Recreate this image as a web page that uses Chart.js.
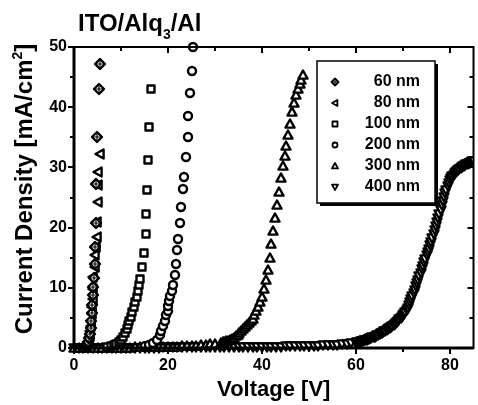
<!DOCTYPE html>
<html lang="en">
<head>
  <meta charset="UTF-8" />
  <title>ITO/Alq3/Al J-V</title>
  <script src="https://cdn.jsdelivr.net/npm/chart.js"></script>
  <style>
    body { margin: 0; background: #fff; }
    #wrap { position: relative; width: 478px; height: 405px; }
  </style>
</head>
<body>
  <div id="wrap"><canvas id="grafico"></canvas></div>

  <script>
    // thickness series: voltage [V] and current density [mA/cm2]
    const labels = ['60 nm', '80 nm', '100 nm', '200 nm', '300 nm', '400 nm'];

    const v60 = [2.2, 2.5, 2.8, 3.0, 3.2, 3.4, 3.6, 3.7, 3.8, 3.9, 4.0, 4.1, 4.2, 4.4, 4.55, 4.7, 4.75, 4.85, 5.4, 5.5];
    const j60 = [0.1, 0.3, 0.6, 1.0, 1.6, 2.4, 3.4, 4.5, 5.8, 7.2, 8.8, 10.2, 11.6, 14.0, 16.8, 20.8, 27.3, 35.0, 43.1, 47.1];

    const v80 = [2.4, 2.7, 3.0, 3.2, 3.4, 3.5, 3.6, 3.7, 3.8, 3.9, 4.0, 4.05, 4.1, 4.4, 4.45, 4.6, 4.8, 4.8, 5.1, 5.1, 5.15, 5.5];
    const j80 = [0.1, 0.3, 0.7, 1.2, 2.0, 2.8, 3.6, 4.5, 5.6, 6.8, 8.2, 9.8, 11.8, 13.5, 15.4, 16.8, 18.4, 20.9, 24.3, 27.0, 29.2, 32.3];

    const v100 = [7.0, 7.8, 8.5, 9.0, 9.5, 10.0, 10.4, 10.8, 11.2, 11.5, 11.8, 12.1, 12.4, 12.7, 13.0, 13.3, 13.6, 13.9, 14.1, 14.5, 14.8, 15.3, 15.4, 15.6, 15.8, 16.0, 16.4];
    const j100 = [0.2, 0.3, 0.5, 0.7, 1.0, 1.4, 1.9, 2.5, 3.1, 3.8, 4.5, 5.2, 6.0, 6.8, 7.6, 8.5, 9.5, 10.4, 11.4, 13.4, 15.8, 18.9, 22.3, 26.2, 31.3, 36.7, 43.1];

    const v200 = [15.0, 16.0, 16.9, 17.6, 18.2, 18.6, 19.0, 19.3, 19.6, 19.9, 20.1, 20.3, 20.5, 20.8, 21.0, 21.4, 21.7, 21.9, 22.2, 22.5, 22.8, 23.2, 23.5, 23.9, 24.2, 24.3, 24.6, 25.0, 25.3];
    const j200 = [0.3, 0.5, 0.9, 1.4, 2.1, 2.9, 3.7, 4.5, 5.4, 6.2, 7.0, 7.8, 8.7, 9.5, 10.4, 12.1, 14.0, 16.2, 18.1, 20.8, 23.4, 26.4, 28.4, 31.7, 35.0, 38.6, 42.3, 46.0, 50.0];

    const v300 = [0, 1, 2, 3, 4, 5, 6, 7, 8, 9, 10, 11, 12, 13, 14, 15, 16, 17, 18, 19, 20, 21, 22, 23, 24, 25, 26, 27, 28, 29, 30,
      31.2, 31.6, 32.0, 32.4, 32.8, 33.2, 33.6, 34.0, 34.4, 34.8, 35.2, 35.6, 36.0, 36.4, 36.8, 37.2, 37.6, 38.0, 38.4, 38.8,
      39.2, 39.6, 40.0, 40.4, 40.8, 41.2, 41.6, 42.0, 42.4, 42.8, 43.2, 43.6, 44.0, 44.4, 44.8, 45.2, 45.6, 46.0, 46.4, 46.8,
      47.2, 47.6, 48.0, 48.4, 48.8];
    const j300 = [0.05, 0.05, 0.05, 0.05, 0.05, 0.05, 0.05, 0.06, 0.06, 0.07, 0.07, 0.08, 0.08, 0.09, 0.1, 0.1, 0.12, 0.13, 0.15, 0.16, 0.18, 0.2, 0.22, 0.25, 0.3, 0.35, 0.4, 0.45, 0.5, 0.6, 0.7,
      0.88, 0.93, 1.0, 1.1, 1.22, 1.35, 1.5, 1.7, 1.92, 2.18, 2.5, 2.85, 3.2, 3.55, 3.9, 4.2, 4.5, 4.9, 5.5, 6.15,
      6.85, 7.65, 8.5, 9.8, 11.3, 13.0, 15.0, 17.2, 19.4, 21.6, 23.8, 25.9, 28.2, 30.2, 31.9, 33.6, 35.4, 37.2, 39.2, 40.7,
      42.0, 43.0, 43.8, 44.6, 45.3];

    const v400 = [0, 1, 2, 3, 4, 5, 6, 7, 8, 9, 10, 11, 12, 13, 14, 15, 16, 17, 18, 19, 20, 21, 22, 23, 24, 25, 26, 27, 28, 29,
      30, 31, 32, 33, 34, 35, 36, 37, 38, 39, 40, 41, 42, 43, 44, 45, 46, 47, 48, 49, 50, 51, 52, 53, 54, 55, 56, 57, 58, 59,
      60, 60.25, 60.5, 60.75, 61, 61.25, 61.5, 61.75, 62, 62.25, 62.5, 62.75, 63, 63.25, 63.5, 63.75,
      64, 64.25, 64.5, 64.75, 65, 65.25, 65.5, 65.75, 66, 66.25, 66.5, 66.75, 67, 67.25, 67.5, 67.75,
      68, 68.25, 68.5, 68.75, 69, 69.25, 69.5, 69.75, 70, 70.25, 70.5, 70.75, 71, 71.25, 71.5, 71.75,
      72, 72.25, 72.5, 72.75, 73, 73.25, 73.5, 73.75, 74, 74.25, 74.5, 74.75, 75, 75.25, 75.5, 75.75,
      76, 76.25, 76.5, 76.75, 77, 77.25, 77.5, 77.75, 78, 78.25, 78.5, 78.75, 79, 79.25, 79.5, 79.75,
      80, 80.25, 80.5, 80.75, 81, 81.25, 81.5, 81.75, 82, 82.25, 82.5, 82.75, 83, 83.25, 83.5, 83.75,
      84, 84.25, 84.5, 84.75, 85];
    const j400 = [0.05, 0.05, 0.05, 0.05, 0.05, 0.05, 0.05, 0.05, 0.05, 0.05, 0.06, 0.06, 0.06, 0.07, 0.07, 0.07, 0.08, 0.08, 0.08, 0.09,
      0.09, 0.1, 0.1, 0.1, 0.11, 0.11, 0.12, 0.12, 0.13, 0.13, 0.14, 0.14, 0.15, 0.15, 0.16, 0.16, 0.17, 0.18, 0.18, 0.19,
      0.2, 0.21, 0.22, 0.23, 0.24, 0.25, 0.27, 0.28, 0.3, 0.32, 0.34, 0.36, 0.39, 0.42, 0.46, 0.5, 0.56, 0.64, 0.72, 0.8,
      0.9, 0.95, 1.0, 1.05, 1.1, 1.16, 1.22, 1.29, 1.35, 1.41, 1.48, 1.54, 1.6, 1.67, 1.75, 1.82,
      1.9, 2.0, 2.1, 2.2, 2.3, 2.41, 2.52, 2.64, 2.75, 2.87, 3.0, 3.12, 3.25, 3.4, 3.55, 3.7,
      3.85, 4.02, 4.2, 4.37, 4.55, 4.76, 4.97, 5.18, 5.4, 5.72, 6.05, 6.37, 6.7, 7.17, 7.65, 8.12,
      8.6, 9.15, 9.7, 10.25, 10.8, 11.37, 11.95, 12.52, 13.1, 13.67, 14.25, 14.82, 15.4, 15.95, 16.5, 17.05,
      17.6, 18.25, 18.9, 19.55, 20.2, 20.9, 21.6, 22.3, 23.0, 23.7, 24.4, 25.1, 25.8, 26.32, 26.85, 27.37,
      27.9, 28.2, 28.5, 28.8, 29.1, 29.27, 29.45, 29.62, 29.8, 29.92, 30.05, 30.17, 30.3, 30.4, 30.5, 30.6,
      30.7, 30.8, 30.9, 31.0, 31.1];

    const xTicks = [0, 10, 20, 30, 40, 50, 60, 70, 80];
    const yTicks = [0, 5, 10, 15, 20, 25, 30, 35, 40, 45, 50];

    const FONT = '"Liberation Sans", Arial, sans-serif';

    // hollow black markers drawn on small canvases
    function makeMarker(kind, s, lw) {
      const size = 2 * Math.ceil((s + lw * 2 + 2) / 2);
      const c = document.createElement('canvas');
      c.width = c.height = size;
      const g = c.getContext('2d');
      const m = size / 2, r = s / 2;
      g.lineWidth = lw;
      g.strokeStyle = '#000';
      g.fillStyle = '#fff';
      g.lineJoin = 'round';
      g.beginPath();
      if (kind === 'diamond') {
        g.moveTo(m, m - r); g.lineTo(m + r, m); g.lineTo(m, m + r); g.lineTo(m - r, m);
      } else if (kind === 'triL') {
        g.moveTo(m - r, m); g.lineTo(m + r * 0.8, m - r); g.lineTo(m + r * 0.8, m + r);
      } else if (kind === 'square') {
        g.rect(m - r, m - r, s, s);
      } else if (kind === 'circle') {
        g.arc(m, m, r, 0, Math.PI * 2);
      } else if (kind === 'triU') {
        g.moveTo(m, m - r); g.lineTo(m + r, m + r * 0.8); g.lineTo(m - r, m + r * 0.8);
      } else if (kind === 'triD') {
        g.moveTo(m, m + r); g.lineTo(m + r, m - r * 0.8); g.lineTo(m - r, m - r * 0.8);
      }
      g.closePath();
      g.fill();
      g.stroke();
      if (kind === 'diamond') {
        g.lineWidth = Math.max(1, lw * 0.5);
        g.beginPath();
        g.moveTo(m - r, m); g.lineTo(m + r, m);
        g.moveTo(m, m - r * 0.6); g.lineTo(m, m + r * 0.6);
        g.stroke();
      }
      return c;
    }

    const series = [
      { v: v60, j: j60, kind: 'diamond', s: 10 },
      { v: v80, j: j80, kind: 'triL', s: 9 },
      { v: v100, j: j100, kind: 'square', s: 7 },
      { v: v200, j: j200, kind: 'circle', s: 8 },
      { v: v300, j: j300, kind: 'triU', s: 9 },
      { v: v400, j: j400, kind: 'triD', s: 9 }
    ];

    const legendMarks = series.map(s => makeMarker(s.kind, Math.round(s.s * 0.65), 1.8));

    const decor = {
      id: 'decor',
      beforeDatasetsDraw(chart) {
        chart.ctx.imageSmoothingEnabled = false;
      },
      afterDraw(chart) {
        const ctx = chart.ctx;
        const a = chart.chartArea;
        const xs = chart.scales.x, ys = chart.scales.y;
        ctx.save();
        ctx.imageSmoothingEnabled = false;
        ctx.strokeStyle = '#000';
        ctx.fillStyle = '#000';

        // frame
        ctx.lineWidth = 2;
        ctx.strokeRect(a.left, a.top, a.right - a.left, a.bottom - a.top);
        ctx.lineWidth = 3;
        ctx.beginPath();
        ctx.moveTo(a.left, a.top); ctx.lineTo(a.left, a.bottom); ctx.lineTo(a.right, a.bottom);
        ctx.stroke();

        // ticks: outward on bottom/left, inward on top/right
        ctx.lineWidth = 2;
        ctx.beginPath();
        xTicks.forEach(t => {
          const px = Math.round(xs.getPixelForValue(t));
          const len = t % 20 === 0 ? 6 : 4;
          ctx.moveTo(px, a.bottom); ctx.lineTo(px, a.bottom + len);
          ctx.moveTo(px, a.top); ctx.lineTo(px, a.top + len);
        });
        yTicks.forEach(t => {
          const py = Math.round(ys.getPixelForValue(t));
          const len = t % 10 === 0 ? 6 : 4;
          ctx.moveTo(a.left - len, py); ctx.lineTo(a.left, py);
          ctx.moveTo(a.right - len, py); ctx.lineTo(a.right, py);
        });
        ctx.stroke();

        // title
        ctx.textBaseline = 'alphabetic';
        ctx.textAlign = 'left';
        let x = 78;
        ctx.font = 'bold 24px ' + FONT;
        ctx.fillText('ITO/Alq', x, 31);
        x += ctx.measureText('ITO/Alq').width;
        ctx.font = 'bold 14px ' + FONT;
        ctx.fillText('3', x, 39);
        x += ctx.measureText('3').width;
        ctx.font = 'bold 24px ' + FONT;
        ctx.fillText('/Al', x, 31);

        // y axis title with superscript
        ctx.save();
        ctx.translate(32, 189);
        ctx.rotate(-Math.PI / 2);
        const p1 = 'Current Density [mA/cm', p2 = '2', p3 = ']';
        ctx.font = 'bold 24px ' + FONT;
        const w1 = ctx.measureText(p1).width, w3 = ctx.measureText(p3).width;
        ctx.font = 'bold 14px ' + FONT;
        const w2 = ctx.measureText(p2).width;
        let lx = -(w1 + w2 + w3) / 2;
        ctx.font = 'bold 24px ' + FONT;
        ctx.fillText(p1, lx, 0);
        lx += w1;
        ctx.font = 'bold 14px ' + FONT;
        ctx.fillText(p2, lx, -10);
        lx += w2;
        ctx.font = 'bold 24px ' + FONT;
        ctx.fillText(p3, lx, 0);
        ctx.restore();

        // legend box with drop shadow
        const bx = 317, by = 61, bw = 118, bh = 142;
        ctx.fillRect(bx + 3, by + 3, bw, bh);
        ctx.fillStyle = '#fff';
        ctx.fillRect(bx, by, bw, bh);
        ctx.lineWidth = 1.5;
        ctx.strokeRect(bx, by, bw, bh);
        ctx.fillStyle = '#000';
        ctx.font = 'bold 16px ' + FONT;
        ctx.textAlign = 'right';
        ctx.textBaseline = 'middle';
        labels.forEach((lab, i) => {
          const ry = 82 + i * 21;
          const mk = legendMarks[i];
          ctx.drawImage(mk, Math.round(335 - mk.width / 2), Math.round(ry - mk.height / 2));
          ctx.fillText(lab, 420, ry);
        });
        ctx.restore();
      }
    };

    new Chart(document.getElementById('grafico'), {
      type: 'scatter',
      data: {
        datasets: series.map((s, i) => ({
          label: labels[i],
          data: s.v.map((x, k) => ({ x: x, y: s.j[k] })),
          showLine: false,
          pointStyle: makeMarker(s.kind, s.s, 2.4),
          pointRadius: 4.5,
          pointBorderWidth: 0,
          clip: { left: 6, top: 6, right: 0, bottom: 6 }
        }))
      },
      options: {
        responsive: true,
        maintainAspectRatio: false,
        animation: false,
        events: [],
        layout: { padding: { top: 47, right: 1, left: 0, bottom: 0 } },
        plugins: { legend: { display: false }, tooltip: { enabled: false } },
        scales: {
          x: {
            type: 'linear',
            min: 0, max: 85,
            grid: { display: false, drawTicks: false },
            border: { display: false },
            ticks: {
              stepSize: 20, includeBounds: false, padding: 8, color: '#000',
              font: { family: FONT, size: 16, weight: 'bold' }
            },
            title: {
              display: true, text: 'Voltage [V]', color: '#000',
              font: { family: FONT, size: 22, weight: 'bold' },
              padding: { top: 0, bottom: 2 }
            },
            afterFit(scale) { scale.height = 57; }
          },
          y: {
            min: 0, max: 50,
            grid: { display: false, drawTicks: false },
            border: { display: false },
            ticks: {
              stepSize: 10, padding: 7, color: '#000',
              font: { family: FONT, size: 16, weight: 'bold' }
            },
            afterFit(scale) { scale.width = 74; }
          }
        }
      },
      plugins: [decor]
    });
  </script>
</body>
</html>
